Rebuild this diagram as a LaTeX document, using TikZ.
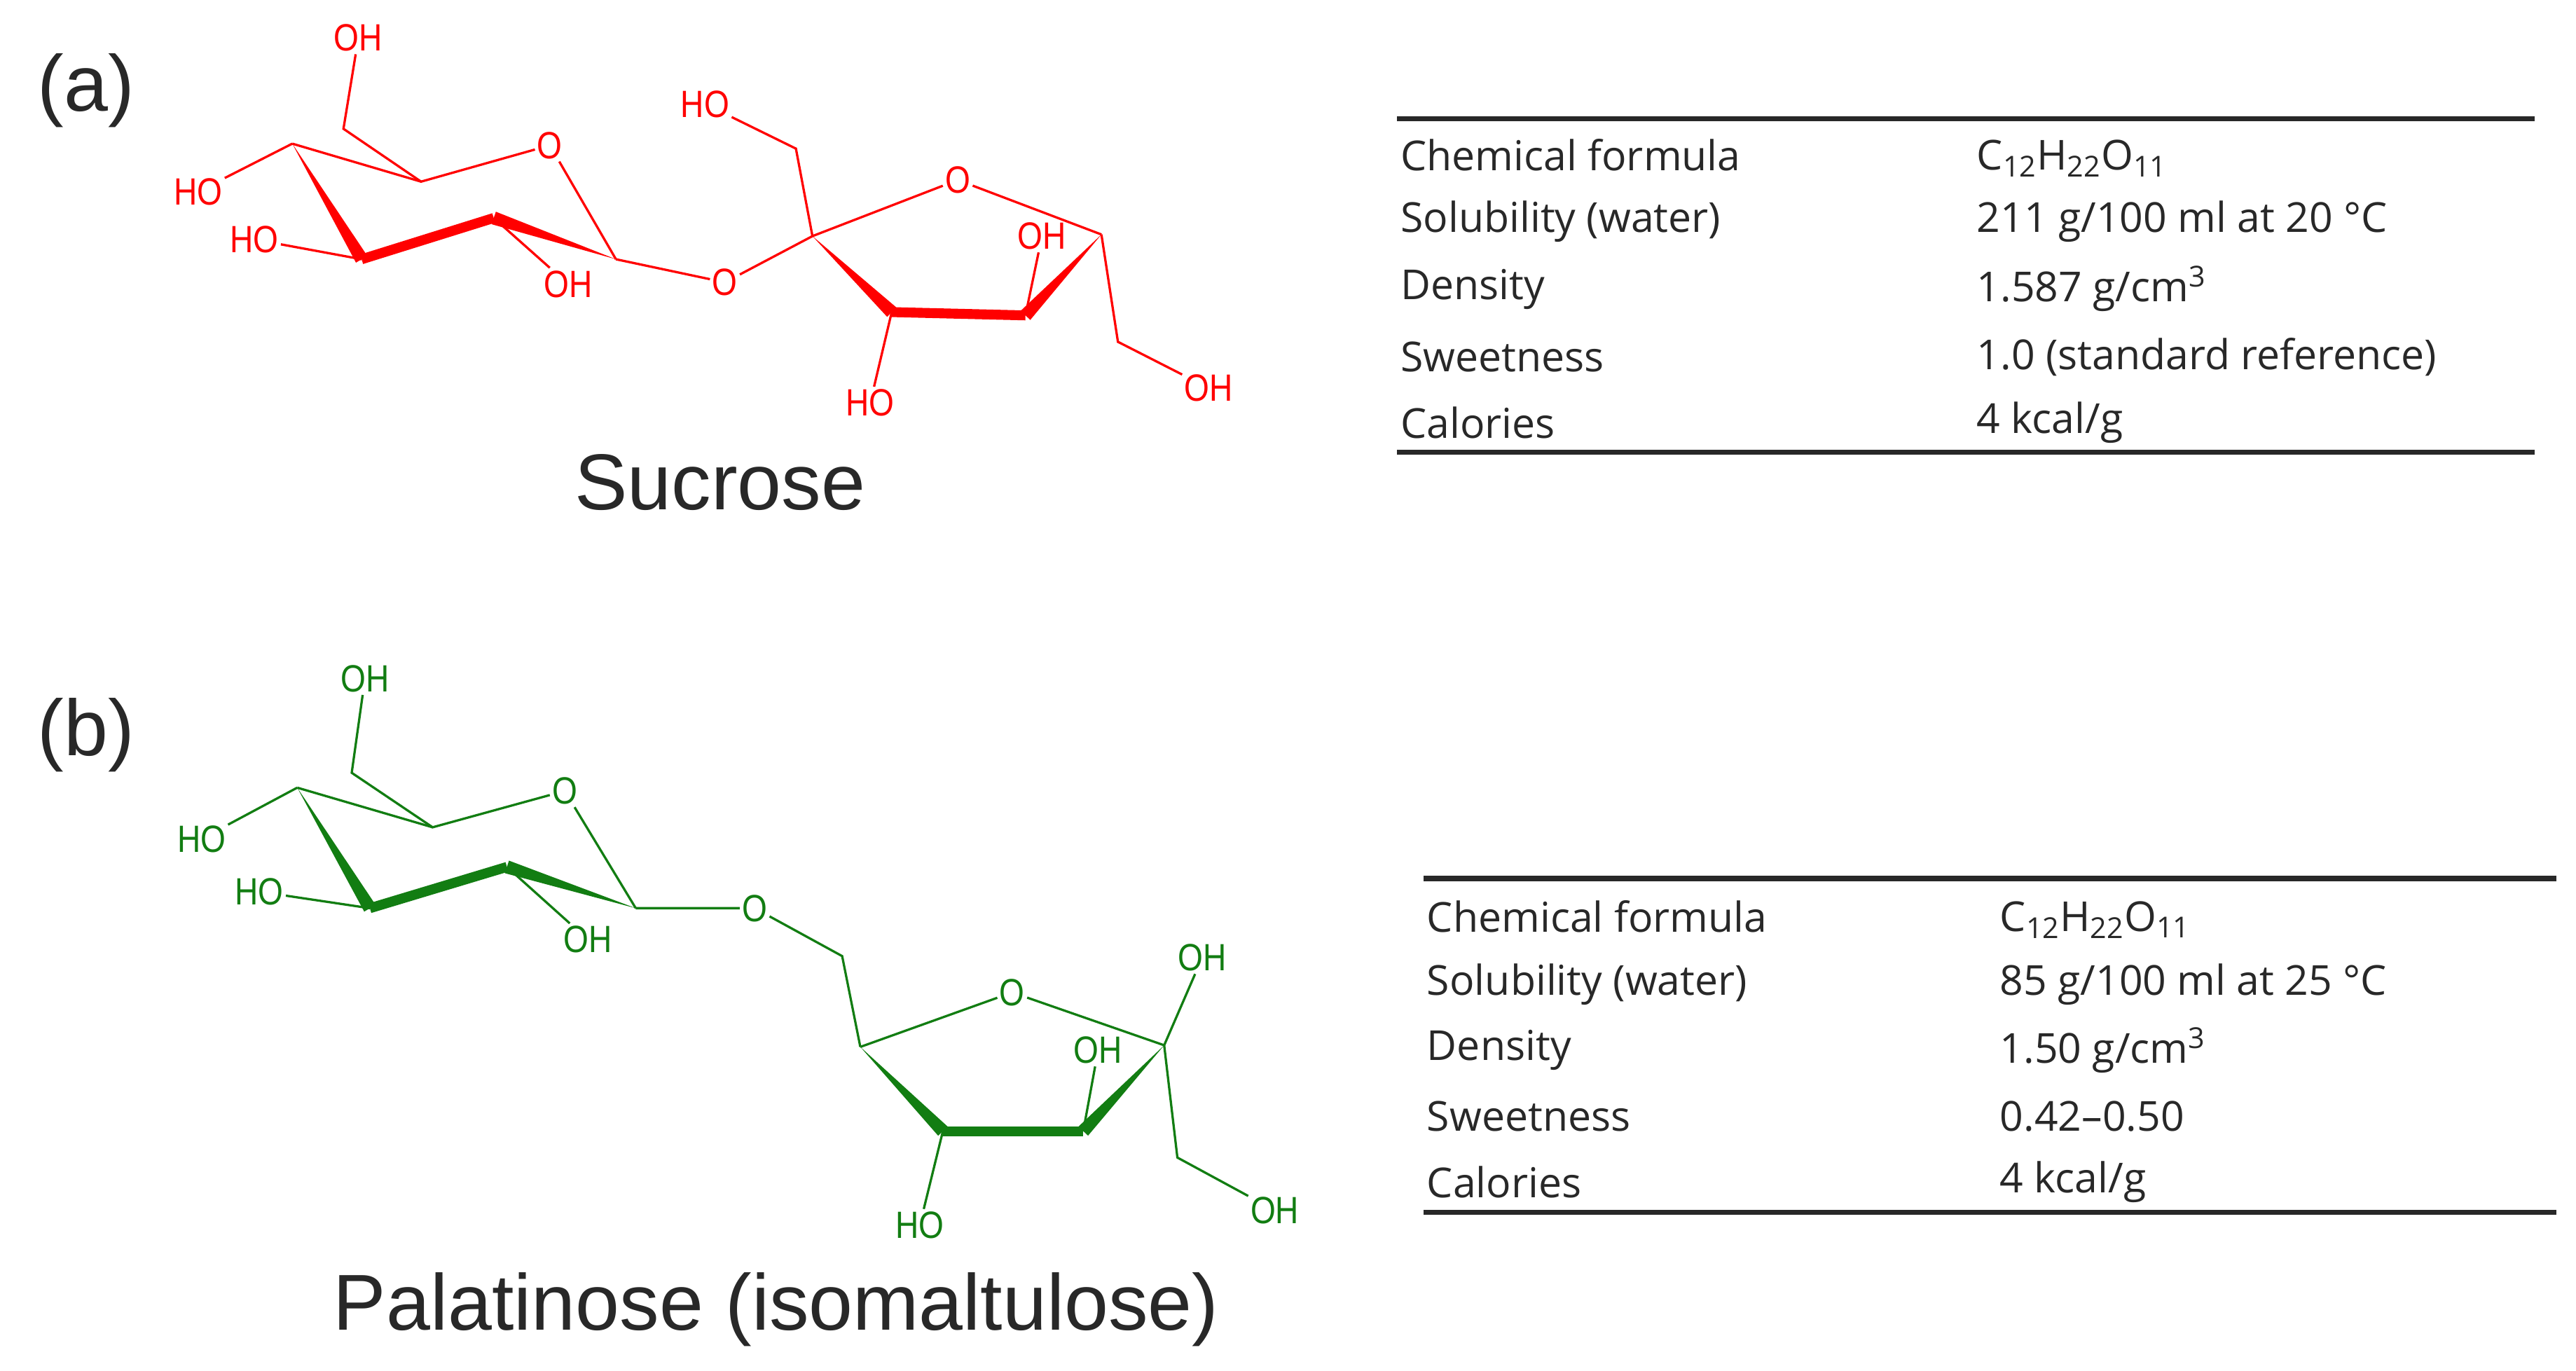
\documentclass[tikz,border=0pt]{standalone}
\usepackage{fontspec}
\setmainfont{Open Sans}
\newfontfamily\chemfont{Liberation Sans}
\newfontfamily\titlefont{Liberation Sans}
\usetikzlibrary{calc}
\definecolor{sred}{RGB}{255,0,0}
\definecolor{sgreen}{RGB}{18,125,18}
\definecolor{txt}{RGB}{40,40,40}
\newcommand{\mywedge}[3]{\fill (#1) -- ($(#2)!#3!90:(#1)$) -- ($(#2)!#3!-90:(#1)$) -- cycle;}
\begin{document}
\begin{tikzpicture}[x=1pt,y=-1pt,
  atom/.style={inner sep=1.5pt,font=\chemfont\fontsize{23}{23}\selectfont,xscale=0.85},
  bond/.style={line width=1.4pt},
  bold/.style={line width=6pt},
  tab/.style={anchor=west,inner sep=0pt,font=\fontsize{25}{28}\selectfont,text=txt},
  rule/.style={line width=3pt,txt},
  title/.style={font=\titlefont\fontsize{48}{50}\selectfont,text=txt}]
\useasboundingbox (0,0) rectangle (1560,830);
\node[title] (la) at (52,55) {(a)};
\node[title] (lb) at (52,445) {(b)};
% ---------- sucrose ----------
\begin{scope}[color=sred,text=sred]
\coordinate (a4) at (177,87);
\coordinate (a5) at (255,110);
\coordinate (a1) at (373,157);
\coordinate (a2) at (299,132);
\coordinate (a3) at (219,157);
\coordinate (a6) at (208,78);
\node[atom] (aO) at (333,88) {O};
\node[atom] (aOH6) at (217,23) {OH};
\node[atom] (aOH4) at (120,116) {HO};
\node[atom] (aOH3) at (154,145) {HO};
\node[atom] (aOH2) at (344,172) {OH};
\node[atom] (aOg) at (439,171) {O};
\coordinate (f2) at (492,143);
\coordinate (f1) at (482,90);
\node[atom] (fOH1) at (427,63) {HO};
\node[atom] (fO) at (580,109) {O};
\coordinate (f5) at (667,142);
\coordinate (f4) at (621,191);
\coordinate (f3) at (540,189);
\node[atom] (fOH3) at (527,244) {HO};
\node[atom] (fOH4) at (631,143) {OH};
\coordinate (f6) at (677,207);
\node[atom] (fOH6) at (732,235) {OH};
\draw[bond] (aOH6) -- (a6) -- (a5) -- (aO) -- (a1);
\draw[bond] (a4) -- (a5);
\draw[bond] (a4) -- (aOH4);
\draw[bond] (a3) -- (aOH3);
\draw[bond] (a2) -- (aOH2);
\mywedge{a4}{a3}{4pt}
\draw[bold] (a3) -- (a2);
\mywedge{a1}{a2}{4pt}
\draw[bond] (a1) -- (aOg) -- (f2);
\draw[bond] (f2) -- (f1) -- (fOH1);
\draw[bond] (f2) -- (fO) -- (f5);
\mywedge{f2}{f3}{4pt}
\draw[bold] (f3) -- (f4);
\mywedge{f5}{f4}{4pt}
\draw[bond] (f3) -- (fOH3);
\draw[bond] (f4) -- (fOH4);
\draw[bond] (f5) -- (f6) -- (fOH6);
\end{scope}
\node[title] (sname) at (436,292) {Sucrose};
% ---------- palatinose ----------
\begin{scope}[color=sgreen,text=sgreen]
\coordinate (b4) at (180,477);
\coordinate (b5) at (262,501);
\coordinate (b1) at (385,550);
\coordinate (b2) at (307,525);
\coordinate (b3) at (224,550);
\coordinate (b6) at (213,468);
\node[atom] (bO) at (342,479) {O};
\node[atom] (bOH6) at (221,411) {OH};
\node[atom] (bOH4) at (122,508) {HO};
\node[atom] (bOH3) at (157,540) {HO};
\node[atom] (bOH2) at (356,569) {OH};
\node[atom] (bOg) at (457,550) {O};
\coordinate (c6) at (510,579);
\coordinate (c5) at (521,634);
\node[atom] (cO) at (613,601) {O};
\coordinate (c2) at (705,633);
\coordinate (c3) at (656,685);
\coordinate (c4) at (571,685);
\node[atom] (cOH4) at (557,742) {HO};
\node[atom] (cOH3) at (665,636) {OH};
\node[atom] (cOH2) at (728,580) {OH};
\coordinate (c1) at (713,701);
\node[atom] (cOH1) at (772,733) {OH};
\draw[bond] (bOH6) -- (b6) -- (b5) -- (bO) -- (b1);
\draw[bond] (b4) -- (b5);
\draw[bond] (b4) -- (bOH4);
\draw[bond] (b3) -- (bOH3);
\draw[bond] (b2) -- (bOH2);
\mywedge{b4}{b3}{4pt}
\draw[bold] (b3) -- (b2);
\mywedge{b1}{b2}{4pt}
\draw[bond] (b1) -- (bOg) -- (c6) -- (c5);
\draw[bond] (c5) -- (cO) -- (c2);
\mywedge{c5}{c4}{4pt}
\draw[bold] (c4) -- (c3);
\mywedge{c2}{c3}{4pt}
\draw[bond] (c4) -- (cOH4);
\draw[bond] (c3) -- (cOH3);
\draw[bond] (c2) -- (cOH2);
\draw[bond] (c2) -- (c1) -- (cOH1);
\end{scope}
\node[title] (pname) at (470,793) {Palatinose (isomaltulose)};
% ---------- table a ----------
\coordinate (ta1) at (846,72); \coordinate (ta2) at (1535,72);
\coordinate (ta3) at (846,274); \coordinate (ta4) at (1535,274);
\draw[rule] (ta1) -- (ta2);
\draw[rule] (ta3) -- (ta4);
\node[tab] (ra1) at (848,94) {Chemical formula};
\node[tab] (ra2) at (848,134) {Solubility (water)};
\node[tab] (ra3) at (848,175) {Density};
\node[tab] (ra4) at (848,216) {Sweetness};
\node[tab] (ra5) at (848,256) {Calories};
\node[tab] (va1) at (1197,96) {C\textsubscript{12}H\textsubscript{22}O\textsubscript{11}};
\node[tab] (va2) at (1197,134) {211 g/100 ml at 20 °C};
\node[tab] (va3) at (1197,175) {1.587 g/cm\textsuperscript{3}};
\node[tab] (va4) at (1197,216) {1.0 (standard reference)};
\node[tab] (va5) at (1197,256) {4 kcal/g};
% ---------- table b ----------
\coordinate (tb1) at (862,532); \coordinate (tb2) at (1548,532);
\coordinate (tb3) at (862,734); \coordinate (tb4) at (1548,734);
\draw[rule] (tb1) -- (tb2);
\draw[rule] (tb3) -- (tb4);
\node[tab] (rb1) at (864,555) {Chemical formula};
\node[tab] (rb2) at (864,596) {Solubility (water)};
\node[tab] (rb3) at (864,636) {Density};
\node[tab] (rb4) at (864,676) {Sweetness};
\node[tab] (rb5) at (864,716) {Calories};
\node[tab] (vb1) at (1211,557) {C\textsubscript{12}H\textsubscript{22}O\textsubscript{11}};
\node[tab] (vb2) at (1211,596) {85 g/100 ml at 25 °C};
\node[tab] (vb3) at (1211,636) {1.50 g/cm\textsuperscript{3}};
\node[tab] (vb4) at (1211,676) {0.42–0.50};
\node[tab] (vb5) at (1211,716) {4 kcal/g};
\end{tikzpicture}
\end{document}
